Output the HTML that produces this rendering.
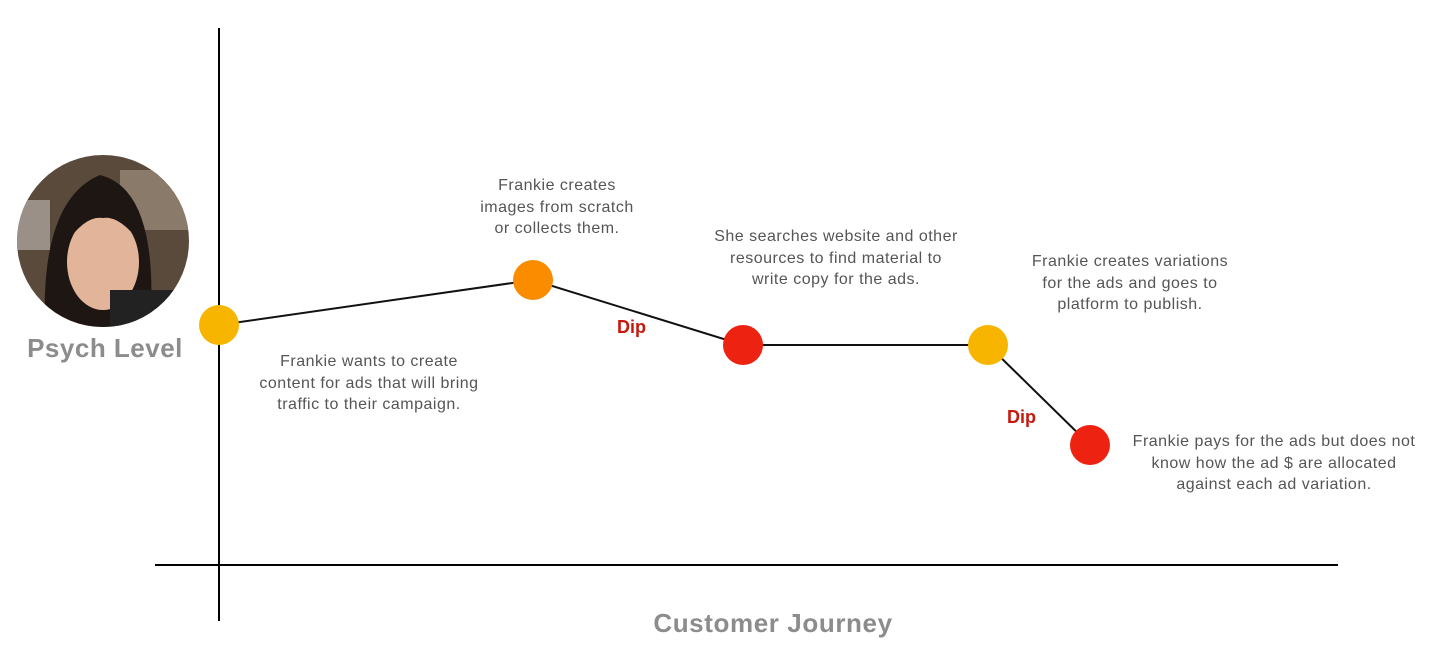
<!DOCTYPE html>
<html><head><style>
body{margin:0;background:#fff;width:1438px;height:659px;overflow:hidden}
text{font-family:"Liberation Sans",sans-serif}
.t{font-size:16px;fill:#555;text-anchor:middle;letter-spacing:0.5px}
.d{font-size:18px;fill:#c8170d;font-weight:bold}
</style></head><body>
<svg width="1438" height="659" viewBox="0 0 1438 659">
<defs><clipPath id="c"><circle cx="103" cy="241" r="86"/></clipPath></defs>
<g clip-path="url(#c)">
<rect x="0" y="150" width="200" height="190" fill="#5a4a3c"/>
<rect x="120" y="170" width="80" height="60" fill="#8a7a6a"/>
<rect x="10" y="200" width="40" height="50" fill="#9a9088"/>
<path d="M45 330 Q40 200 100 175 Q160 190 150 330 Z" fill="#1e1612"/>
<ellipse cx="103" cy="262" rx="36" ry="48" fill="#e2b49a"/>
<path d="M65 245 Q70 190 103 190 Q140 190 142 245 Q120 215 103 218 Q85 215 65 245Z" fill="#1e1612"/>
<rect x="110" y="290" width="90" height="50" fill="#222"/>
</g>
<line x1="219" y1="28" x2="219" y2="621" stroke="#000" stroke-width="2"/>
<line x1="155" y1="565" x2="1338" y2="565" stroke="#000" stroke-width="2"/>
<polyline points="219,325 533,280 743,345 988,345 1090,445" fill="none" stroke="#111" stroke-width="2"/>
<circle cx="219" cy="325" r="20" fill="#f7b500"/>
<circle cx="533" cy="280" r="20" fill="#fb8c00"/>
<circle cx="743" cy="345" r="20" fill="#ee2211"/>
<circle cx="988" cy="345" r="20" fill="#f7b500"/>
<circle cx="1090" cy="445" r="20" fill="#ee2211"/>
<text x="105" y="357" style="font-size:26px;font-weight:bold;fill:#8c8c8c;letter-spacing:0.5px" text-anchor="middle">Psych Level</text>
<text x="773" y="632" style="font-size:26px;font-weight:bold;fill:#8c8c8c;letter-spacing:0.6px" text-anchor="middle">Customer Journey</text>
<text class="d" x="617" y="333">Dip</text>
<text class="d" x="1007" y="423">Dip</text>
<text class="t"><tspan x="557" y="190">Frankie creates</tspan><tspan x="557" y="212">images from scratch</tspan><tspan x="557" y="233">or collects them.</tspan></text>
<text class="t"><tspan x="836" y="241">She searches website and other</tspan><tspan x="836" y="263">resources to find material to</tspan><tspan x="836" y="284">write copy for the ads.</tspan></text>
<text class="t"><tspan x="1130" y="266">Frankie creates variations</tspan><tspan x="1130" y="288">for the ads and goes to</tspan><tspan x="1130" y="309">platform to publish.</tspan></text>
<text class="t"><tspan x="369" y="366">Frankie wants to create</tspan><tspan x="369" y="388">content for ads that will bring</tspan><tspan x="369" y="409">traffic to their campaign.</tspan></text>
<text class="t"><tspan x="1274" y="446">Frankie pays for the ads but does not</tspan><tspan x="1274" y="468">know how the ad $ are allocated</tspan><tspan x="1274" y="489">against each ad variation.</tspan></text>
</svg>
</body></html>
